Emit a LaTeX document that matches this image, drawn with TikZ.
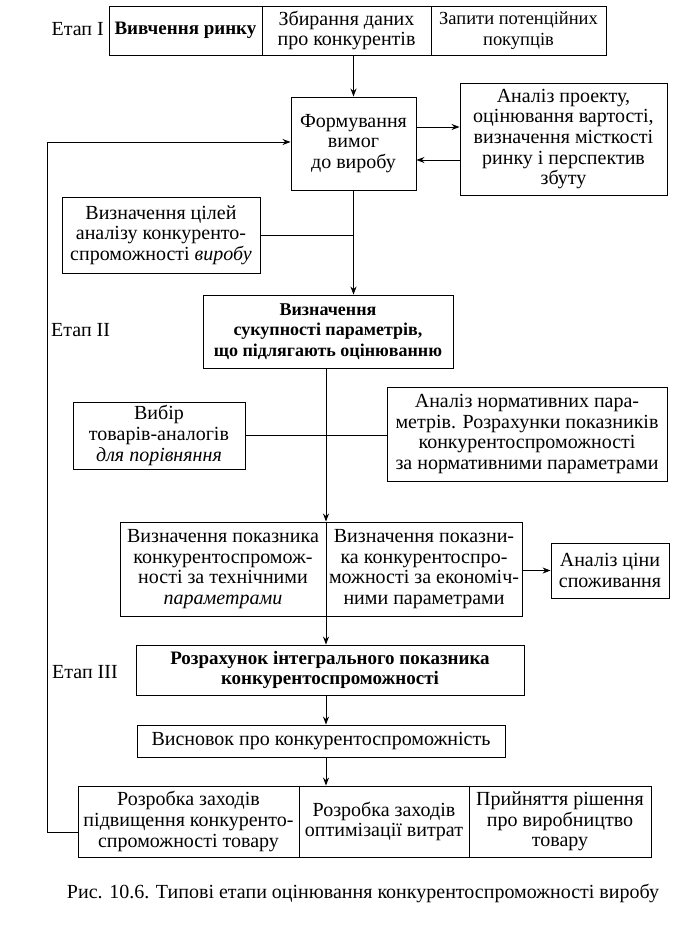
\documentclass[tikz,border=0pt]{standalone}
\usepackage{fontspec}
\setmainfont{Liberation Serif}
\usetikzlibrary{arrows.meta}
\newcommand{\bodyfs}{\fontsize{20}{20.6}\selectfont}
\newcommand{\boldfs}{\fontsize{19}{20.6}\selectfont\bfseries}
\begin{document}
\begin{tikzpicture}[x=1pt,y=-1pt,
  box/.style={draw, line width=0.9pt, align=center, inner sep=1pt, font=\bodyfs},
  bbox/.style={box, font=\boldfs},
  lbl/.style={font=\bodyfs, inner sep=0pt},
  arr/.style={-{Stealth[length=8pt,width=6pt]}, line width=0.9pt},
  ln/.style={line width=0.9pt}]
\useasboundingbox (0,0) rectangle (687,930);
% top row
\node[lbl, anchor=east] (e1) at (104,29) {Етап I};
\node[bbox, minimum width=153, minimum height=49] (t1) at (185.5,30.5) {Вивчення ринку};
\node[box, minimum width=169, minimum height=49] (t2) at (346.5,30.5) {Збирання даних\\про конкурентів};
\node[box, font=\fontsize{18.5}{20.6}\selectfont, minimum width=175, minimum height=49] (t3) at (518.5,30.5) {Запити потенційних\\покупців};
% forming
\node[box, minimum width=125, minimum height=93] (form) at (353.5,143.5) {Формування\\вимог\\до виробу};
\node[box, minimum width=207, minimum height=112] (an1) at (563.5,139) {Аналіз проекту,\\оцінювання вартості,\\визначення місткості\\ринку і перспектив\\збуту};
\coordinate (y127) at (0,127);
\coordinate (y160) at (0,160);
\coordinate (y142) at (0,142);
\draw[arr] (form.north |- t2.south) -- (form.north);
\draw[arr] (form.east |- y127) -- (an1.west |- y127);
\draw[arr] (an1.west |- y160) -- (form.east |- y160);
% goals
\node[box, minimum width=198, minimum height=76] (goal) at (161,235) {Визначення цілей\\аналізу конкуренто-\\спроможності \textit{виробу}};
\node[bbox, font=\fontsize{18}{20.6}\selectfont\bfseries, minimum width=250, minimum height=73] (suk) at (328,331.5) {Визначення\\сукупності параметрів,\\що підлягають оцінюванню};
\draw[arr] (form.south) -- (form.south |- suk.north);
\draw[ln] (goal.east) -- (goal.east -| form.south);
\node[lbl, anchor=west] (e2) at (51,330) {Етап II};
% selection
\coordinate (mc) at (326,0);
\node[box, minimum width=172, minimum height=67] (vyb) at (159,435.5) {Вибір\\товарів-аналогів\\\textit{для порівняння}};
\node[box, minimum width=280, minimum height=94] (an2) at (527,434) {Аналіз нормативних пара-\\метрів. Розрахунки показників\\конкурентоспроможності\\за нормативними параметрами};
\draw[ln] (vyb.east) -- (an2.west |- vyb.east);
% split box
\node[box, minimum width=206, minimum height=94] (s1) at (223,569) {Визначення показника\\конкурентоспромож-\\ності за технічними\\\textit{параметрами}};
\node[box, minimum width=196, minimum height=94] (s2) at (424,569) {Визначення показни-\\ка конкурентоспро-\\можності за економіч-\\ними параметрами};
\node[box, minimum width=118, minimum height=55] (cina) at (610,570.5) {Аналіз ціни\\споживання};
\draw[arr] (mc |- suk.south) -- (mc |- s1.north);
\draw[arr] (s2.east |- cina.west) -- (cina.west);
% stage III
\node[bbox, minimum width=388, minimum height=50] (roz) at (330,670) {Розрахунок інтегрального показника\\конкурентоспроможності};
\node[lbl, anchor=west] (e3) at (52,672) {Етап III};
\node[box, minimum width=368, minimum height=32] (vys) at (321,741) {Висновок про конкурентоспроможність};
\draw[arr] (mc |- s1.south) -- (mc |- roz.north);
\draw[arr] (mc |- roz.south) -- (mc |- vys.north);
% bottom row
\node[box, minimum width=221, minimum height=71] (b1) at (188.5,821.5) {Розробка заходів\\підвищення конкуренто-\\спроможності товару};
\node[box, minimum width=170, minimum height=71] (b2) at (384,821.5) {Розробка заходів\\оптимізації витрат};
\node[box, minimum width=182, minimum height=71] (b3) at (560,821.5) {Прийняття рішення\\про виробництво\\товару};
\draw[arr] (mc |- vys.south) -- (mc |- b1.north);
% feedback
\coordinate (fbB) at (47,832);
\coordinate (fbT) at (47,142);
\draw[arr] (b1.west |- fbB) -- (fbB) -- (fbT) -- (form.west |- y142);
% caption
\node[lbl] (cap) at (363,893) {Рис. 10.6. Типові етапи оцінювання конкурентоспроможності виробу};
\end{tikzpicture}
\end{document}
